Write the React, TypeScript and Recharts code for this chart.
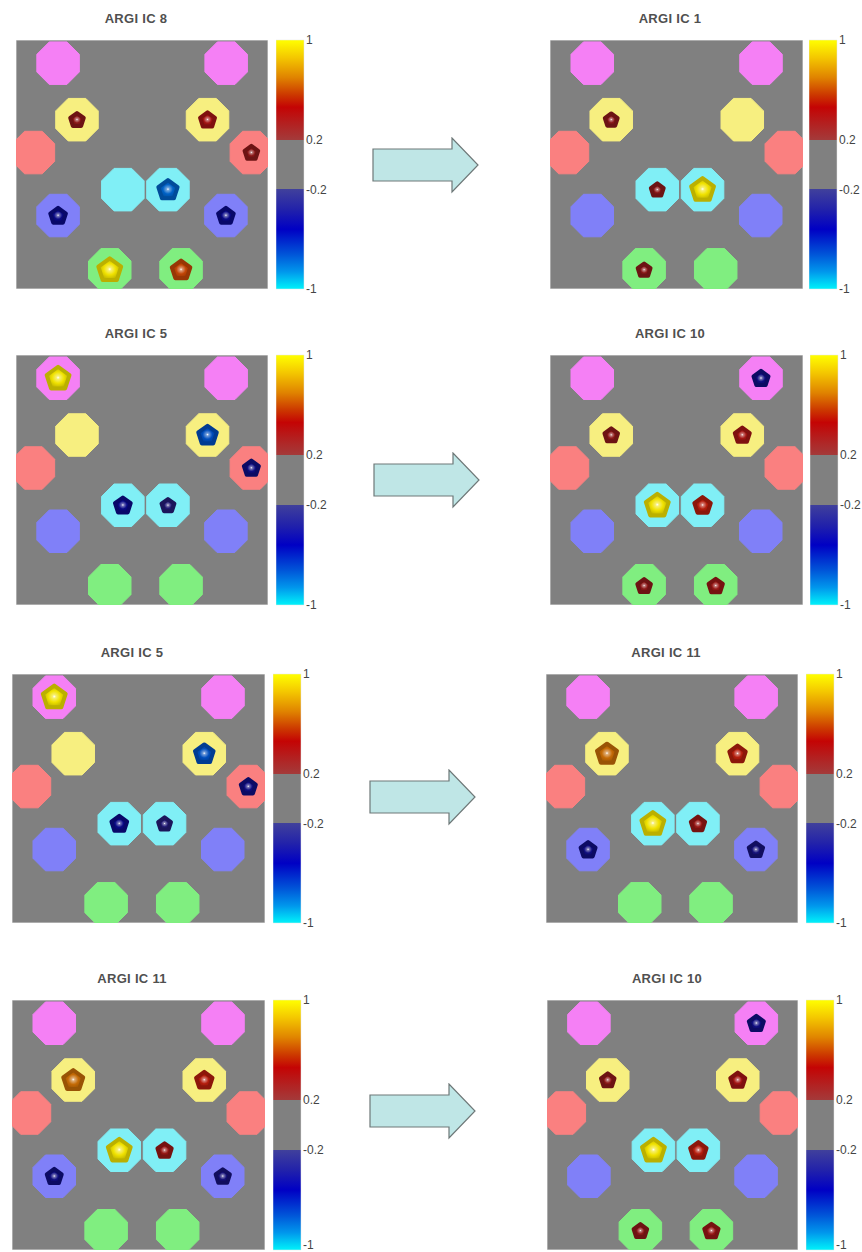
import React from "react";
import { ScatterChart, Scatter, XAxis, YAxis, ReferenceArea, ComposedChart } from "recharts";

// blob regions (left/right pairs), positions in % of the square image
const regions = ["pinkL", "pinkR", "yellowL", "yellowR", "salmonL", "salmonR", "cyanL", "cyanR", "blueL", "blueR", "greenL", "greenR"];
const regionX = [16.7, 83.4, 24.2, 76.0, 6.9, 93.4, 42.4, 60.3, 16.7, 83.3, 37.2, 65.5];
const regionY = [9.3, 9.3, 32.0, 32.0, 45.2, 45.2, 60.1, 60.1, 70.5, 70.5, 92.3, 92.3];

// component loadings per region (null = no marker)
const ic8 = [null, null, 0.35, 0.45, null, 0.35, null, -0.75, -0.5, -0.5, 1.0, 0.7];
const ic1 = [null, null, 0.3, null, null, null, 0.3, 1.0, null, null, 0.3, null];
const ic5 = [1.0, null, null, -0.7, null, -0.45, -0.5, -0.3, null, null, null, null];
const ic10 = [null, -0.45, 0.35, 0.45, null, null, 1.0, 0.55, null, null, 0.35, 0.4];
const ic11 = [null, null, 0.8, 0.55, null, null, 1.0, 0.4, -0.45, -0.4, null, null];

const panelTitles = ["ARGI IC 8", "ARGI IC 1", "ARGI IC 5", "ARGI IC 10", "ARGI IC 5", "ARGI IC 11", "ARGI IC 11", "ARGI IC 10"];
const panelValues = [ic8, ic1, ic5, ic10, ic5, ic11, ic11, ic10];

const colorbarTicks = [1, 0.2, -0.2, -1];

const regionFill: Record<string, string> = {
  pink: "#F580F5",
  yellow: "#F7EF80",
  salmon: "#FA8080",
  cyan: "#80EFF6",
  blue: "#8080F8",
  green: "#80EE80",
};

const PAGE_H = 1252;

const layout = [
  { x: 16, y: 40, w: 252, h: 249, cb: 276 },
  { x: 550, y: 40, w: 253, h: 249, cb: 809 },
  { x: 16, y: 355, w: 252, h: 250, cb: 276 },
  { x: 550, y: 355, w: 253, h: 250, cb: 810 },
  { x: 12, y: 674, w: 253, h: 249, cb: 273 },
  { x: 546, y: 674, w: 252, h: 249, cb: 806 },
  { x: 12, y: 1000, w: 253, h: 250, cb: 273 },
  { x: 547, y: 1000, w: 251, h: 250, cb: 806 },
];
const arrows = [
  { x: 373, cy: 165 },
  { x: 374, cy: 480 },
  { x: 370, cy: 797 },
  { x: 370, cy: 1111 },
];

// colormap: value -> colour (gray band between -0.2 and 0.2)
const cmapStops: [number, string][] = [
  [-1, "#30E4F2"],
  [-0.9, "#1AA8E8"],
  [-0.75, "#0062C6"],
  [-0.6, "#0024A4"],
  [-0.5, "#0A0A86"],
  [-0.35, "#1C1674"],
  [-0.2, "#302878"],
  [0.2, "#8A1E1E"],
  [0.35, "#8C1818"],
  [0.5, "#AE1410"],
  [0.65, "#C03206"],
  [0.8, "#C46A06"],
  [0.9, "#DCAE00"],
  [1, "#F0E200"],
];

function hexToRgb(h: string) {
  const n = parseInt(h.slice(1), 16);
  return [(n >> 16) & 255, (n >> 8) & 255, n & 255];
}
function rgbToHex(c: number[]) {
  return "#" + c.map((v) => Math.max(0, Math.min(255, Math.round(v))).toString(16).padStart(2, "0")).join("");
}
function cmap(v: number) {
  for (let i = 0; i < cmapStops.length - 1; i++) {
    const [a, ca] = cmapStops[i];
    const [b, cb] = cmapStops[i + 1];
    if (v >= a && v <= b) {
      const t = b === a ? 0 : (v - a) / (b - a);
      const A = hexToRgb(ca);
      const B = hexToRgb(cb);
      return rgbToHex(A.map((x, k) => x + (B[k] - x) * t));
    }
  }
  return v > 0 ? cmapStops[cmapStops.length - 1][1] : cmapStops[0][1];
}
function shade(hex: string, f: number) {
  return rgbToHex(hexToRgb(hex).map((x) => x * f));
}
function tint(hex: string, f: number) {
  return rgbToHex(hexToRgb(hex).map((x) => x + (255 - x) * f));
}

function polygon(cx: number, cy: number, r: number, n: number, start: number) {
  const pts: string[] = [];
  for (let i = 0; i < n; i++) {
    const a = start + (i * 2 * Math.PI) / n;
    pts.push(`${(cx + r * Math.cos(a)).toFixed(2)},${(cy + r * Math.sin(a)).toFixed(2)}`);
  }
  return pts.join(" ");
}

function RegionShape(props: any) {
  const { cx, cy, payload } = props;
  if (cx == null || cy == null) return null;
  const fill = regionFill[payload.region.replace(/[LR]$/, "")];
  const v = payload.value;
  const gid = `g-${payload.panel}-${payload.idx}`;
  let marker = null;
  if (v != null) {
    const c = cmap(v);
    const r = 4.5 + 7.5 * Math.abs(v);
    marker = (
      <g>
        <defs>
          <radialGradient id={gid} cx="50%" cy="50%" r="58%">
            <stop offset="0%" stopColor="#FFFFFF" />
            <stop offset="13%" stopColor={tint(c, 0.45)} />
            <stop offset="45%" stopColor={c} />
            <stop offset="100%" stopColor={shade(c, 0.7)} />
          </radialGradient>
        </defs>
        <polygon
          points={polygon(cx, cy + 0.5, r, 5, -Math.PI / 2)}
          fill={`url(#${gid})`}
          stroke={shade(c, 0.78)}
          strokeWidth={4}
          strokeLinejoin="round"
        />
      </g>
    );
  }
  return (
    <g>
      <polygon points={polygon(cx, cy, 23, 8, Math.PI / 8)} fill={fill} stroke={fill} strokeWidth={1} strokeLinejoin="round" />
      {marker}
    </g>
  );
}

function Panel({ idx }: { idx: number }) {
  const L = layout[idx];
  const data = regions.map((region, i) => ({
    x: regionX[i],
    y: regionY[i],
    region,
    value: panelValues[idx][i],
    panel: idx,
    idx: i,
  }));
  return (
    <div style={{ position: "absolute", left: L.x, top: L.y }}>
      <ScatterChart width={L.w} height={L.h} margin={{ top: 0, right: 0, bottom: 0, left: 0 }}>
        <XAxis type="number" dataKey="x" domain={[0, 100]} hide allowDataOverflow />
        <YAxis type="number" dataKey="y" domain={[0, 100]} reversed hide allowDataOverflow />
        <ReferenceArea x1={0} x2={100} y1={0} y2={100} fill="#808080" fillOpacity={1} stroke="#d8d8d8" strokeWidth={1} />
        <Scatter data={data} shape={<RegionShape />} isAnimationActive={false} />
      </ScatterChart>
    </div>
  );
}

// tick label, kept inside the page when the bar reaches the bottom edge
function CbTick(props: any) {
  const { x, y, payload, maxY } = props;
  const ty = Math.min(y, maxY);
  return (
    <text x={x + 2} y={ty} dy="0.355em" textAnchor="start" fontSize={12} fill="#444" fontFamily="Liberation Sans, Arial, sans-serif">
      {String(payload.value)}
    </text>
  );
}

function ColorBar({ idx }: { idx: number }) {
  const L = layout[idx];
  const gid = `cb-${idx}`;
  const top = L.y - 8;
  const maxY = PAGE_H - top - 7;
  return (
    <div style={{ position: "absolute", left: L.cb, top }}>
      <ComposedChart width={62} height={L.h + 16} data={[{ x: 0, y: 0 }]} margin={{ top: 8, right: 0, bottom: 8, left: 0 }}>
        <defs>
          <linearGradient id={gid} x1="0" y1="0" x2="0" y2="1">
            <stop offset="0%" stopColor="#FFFF00" />
            <stop offset="7%" stopColor="#F4C800" />
            <stop offset="15%" stopColor="#E08400" />
            <stop offset="22%" stopColor="#CC3800" />
            <stop offset="27%" stopColor="#C40404" />
            <stop offset="34%" stopColor="#B22222" />
            <stop offset="40%" stopColor="#A43A3A" />
            <stop offset="40%" stopColor="#808080" />
            <stop offset="60%" stopColor="#808080" />
            <stop offset="60%" stopColor="#40409C" />
            <stop offset="68%" stopColor="#2222AA" />
            <stop offset="76%" stopColor="#0000C4" />
            <stop offset="86%" stopColor="#0054D8" />
            <stop offset="93%" stopColor="#0096EC" />
            <stop offset="100%" stopColor="#00F2FA" />
          </linearGradient>
        </defs>
        <XAxis type="number" dataKey="x" domain={[0, 1]} hide />
        <YAxis
          type="number"
          dataKey="y"
          orientation="right"
          domain={[-1, 1]}
          ticks={colorbarTicks}
          interval={0}
          width={34}
          axisLine={false}
          tickLine={false}
          tickSize={0}
          tickMargin={0}
          tick={<CbTick maxY={maxY} />}
        />
        <ReferenceArea x1={0} x2={1} y1={-1} y2={1} fill={`url(#${gid})`} fillOpacity={1} stroke="#e4e4e4" strokeWidth={0.5} />
      </ComposedChart>
    </div>
  );
}

function Arrow({ x, cy }: { x: number; cy: number }) {
  const pts = [
    [0, -16],
    [79, -16],
    [79, -27],
    [105, 0],
    [79, 27],
    [79, 16],
    [0, 16],
  ]
    .map(([a, b]) => `${a + 1},${b + 28}`)
    .join(" ");
  return (
    <svg style={{ position: "absolute", left: x - 1, top: cy - 28 }} width={108} height={57}>
      <polygon points={pts} fill="#BFE6E6" stroke="#6E7878" strokeWidth={1.2} />
    </svg>
  );
}

export default function App() {
  return (
    <div style={{ position: "absolute", left: 0, top: 0, width: 862, height: PAGE_H, background: "#fff", overflow: "hidden", fontFamily: "Liberation Sans, Arial, sans-serif" }}>
      {layout.map((L, i) => (
        <div
          key={`t${i}`}
          style={{
            position: "absolute",
            left: L.x,
            top: L.y - 29,
            width: 240,
            textAlign: "center",
            fontSize: 13,
            fontWeight: "bold",
            letterSpacing: 0.3,
            lineHeight: "16px",
            color: "#505050",
          }}
        >
          {panelTitles[i]}
        </div>
      ))}
      {layout.map((_, i) => (
        <Panel key={`p${i}`} idx={i} />
      ))}
      {layout.map((_, i) => (
        <ColorBar key={`c${i}`} idx={i} />
      ))}
      {arrows.map((a, i) => (
        <Arrow key={`a${i}`} x={a.x} cy={a.cy} />
      ))}
    </div>
  );
}
